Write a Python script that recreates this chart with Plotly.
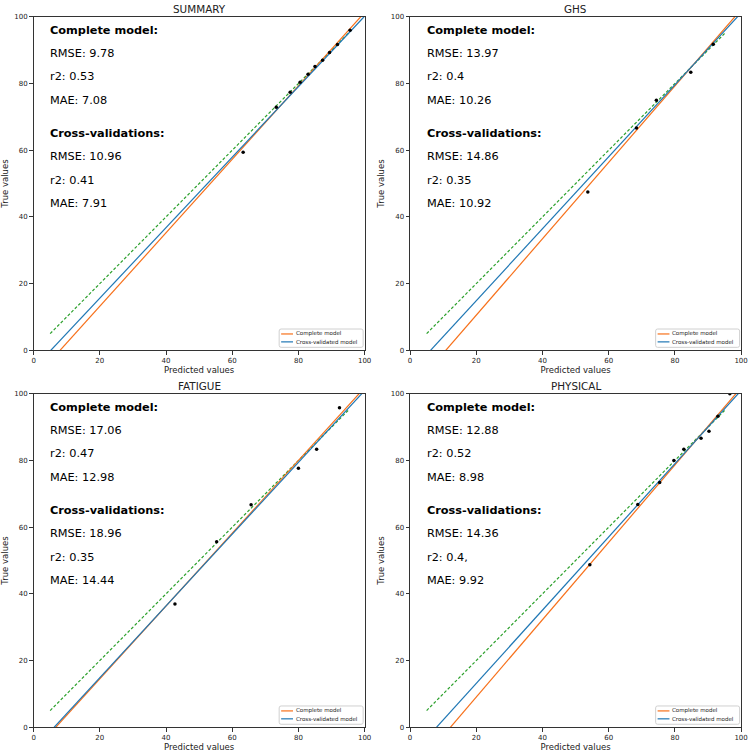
import numpy as np
import plotly.graph_objects as go

# ---------------- data ----------------
titles = ["SUMMARY", "GHS", "FATIGUE", "PHYSICAL"]

pred_values = [
    [63.3, 73.3, 77.5, 80.5, 82.9, 85.0, 87.3, 89.4, 91.8, 95.6],
    [53.7, 68.4, 74.4, 84.8, 91.6],
    [42.7, 55.3, 65.7, 80.0, 85.5, 92.4],
    [54.3, 68.8, 75.4, 79.7, 82.7, 87.9, 90.3, 93.0, 96.6],
]
true_values = [
    [59.4, 72.9, 77.4, 80.4, 82.8, 85.1, 87.0, 89.3, 91.7, 96.0],
    [47.5, 66.7, 75.0, 83.4, 91.8],
    [37.0, 55.6, 66.7, 77.7, 83.4, 95.8],
    [48.7, 66.8, 73.4, 80.0, 83.4, 86.7, 88.8, 93.3, 100.0],
]

# regression lines: true = slope * predicted + intercept
complete_slope = [1.1013, 1.1455, 1.0917, 1.1601]
complete_intercept = [-8.81, -12.37, -7.31, -14.15]
cv_slope = [1.0571, 1.0788, 1.0764, 1.0977]
cv_intercept = [-5.50, -6.69, -6.67, -8.78]

identity_range = [5, 95]

rmse_complete = ["9.78", "13.97", "17.06", "12.88"]
r2_complete = ["0.53", "0.4", "0.47", "0.52"]
mae_complete = ["7.08", "10.26", "12.98", "8.98"]
rmse_cv = ["10.96", "14.86", "18.96", "14.36"]
r2_cv = ["0.41", "0.35", "0.35", "0.4,"]
mae_cv = ["7.91", "10.92", "14.44", "9.92"]

legend_labels = ["Complete model", "Cross-validated model"]
tick_vals = [0, 20, 40, 60, 80, 100]

# ---------------- layout geometry ----------------
W, H = 756, 754
px_x = [(32, 367), (413, 748), (32, 367), (413, 748)]
px_y = [(13, 350), (13, 350), (394, 731), (394, 731)]

ORANGE = "#f7701a"
BLUE = "#1f77b4"
GREEN = "#2ca02c"
FONT = "DejaVu Sans"


def px2paper(px, py):
    return px / W, (H - py) / H


fig = go.Figure()
annotations = []
shapes = []
layout_extra = {}

for i in range(4):
    n = "" if i == 0 else str(i + 1)
    xa, ya = "x" + n, "y" + n
    x0, x1 = px_x[i]
    y0, y1 = px_y[i]
    xdom = [x0 / W, x1 / W]
    ydom = [(H - y1) / H, (H - y0) / H]

    axis_common = dict(
        range=[0, 100], tickvals=tick_vals, showgrid=False, zeroline=False,
        showline=True, mirror=True, linecolor="#333", linewidth=1,
        ticks="outside", ticklen=3.5, tickwidth=1, tickcolor="#333",
        tickfont=dict(family=FONT, size=7, color="#222"),
    )
    layout_extra["xaxis" + n] = dict(
        axis_common, domain=xdom, anchor=ya,
        title=dict(text="Predicted values", font=dict(family=FONT, size=8.5, color="#222"), standoff=2),
    )
    layout_extra["yaxis" + n] = dict(
        axis_common, domain=ydom, anchor=xa,
        title=dict(text="True values", font=dict(family=FONT, size=8.5, color="#222"), standoff=4),
    )

    xl = np.array([0.0, 100.0])
    fig.add_trace(go.Scatter(
        x=identity_range, y=identity_range, mode="lines", xaxis=xa, yaxis=ya,
        line=dict(color=GREEN, width=1.2, dash="3px,2px"), showlegend=False, hoverinfo="skip",
    ))
    fig.add_trace(go.Scatter(
        x=xl, y=complete_slope[i] * xl + complete_intercept[i], mode="lines",
        xaxis=xa, yaxis=ya, line=dict(color=ORANGE, width=1.2),
        name=legend_labels[0], showlegend=False,
    ))
    fig.add_trace(go.Scatter(
        x=xl, y=cv_slope[i] * xl + cv_intercept[i], mode="lines",
        xaxis=xa, yaxis=ya, line=dict(color=BLUE, width=1.2),
        name=legend_labels[1], showlegend=False,
    ))
    fig.add_trace(go.Scatter(
        x=pred_values[i], y=true_values[i], mode="markers", xaxis=xa, yaxis=ya,
        marker=dict(color="black", size=3.5), showlegend=False,
    ))

    # legend box (lower right, inside axes)
    lx1, ly1 = x1 - 1.5, y1 - 3
    lx0, ly0 = lx1 - 85, ly1 - 18.5
    r = 2
    path = (f"M {lx0 + r} {ly0} L {lx1 - r} {ly0} Q {lx1} {ly0} {lx1} {ly0 + r} "
            f"L {lx1} {ly1 - r} Q {lx1} {ly1} {lx1 - r} {ly1} L {lx0 + r} {ly1} "
            f"Q {lx0} {ly1} {lx0} {ly1 - r} L {lx0} {ly0 + r} Q {lx0} {ly0} {lx0 + r} {ly0} Z")
    # convert path pixel coords into paper coords
    toks = path.split()
    conv = []
    k = 0
    while k < len(toks):
        t = toks[k]
        if t.isalpha():
            conv.append(t)
            k += 1
        else:
            px_, py_ = float(toks[k]), float(toks[k + 1])
            qx, qy = px2paper(px_, py_)
            conv.append(f"{qx:.5f},{qy:.5f}")
            k += 2
    shapes.append(dict(type="path", path=" ".join(conv), xref="paper", yref="paper",
                       line=dict(color="#d0d0d0", width=1), fillcolor="rgba(255,255,255,0.8)",
                       layer="above"))
    for j, (col, lab) in enumerate(zip([ORANGE, BLUE], legend_labels)):
        yy = ly0 + 5 + j * 8
        a0 = px2paper(lx0 + 2, yy)
        a1 = px2paper(lx0 + 14, yy)
        shapes.append(dict(type="line", xref="paper", yref="paper",
                           x0=a0[0], y0=a0[1], x1=a1[0], y1=a1[1],
                           line=dict(color=col, width=1.2), layer="above"))
        tp = px2paper(lx0 + 16, yy)
        annotations.append(dict(
            text=lab, x=tp[0], y=tp[1], xref="paper", yref="paper",
            xanchor="left", yanchor="middle", showarrow=False, borderpad=0,
            font=dict(family=FONT, size=5.5, color="#222"),
        ))

    # subplot title
    annotations.append(dict(
        text=titles[i], x=(x0 + x1) / 2 / W, y=(H - y0) / H, xref="paper", yref="paper",
        xanchor="center", yanchor="bottom", showarrow=False, yshift=0,
        font=dict(family=FONT, size=10.4, color="#222"),
    ))

    lines = [
        ("<b>Complete model:</b>", 96),
        ("RMSE: " + rmse_complete[i], 89),
        ("r2: " + r2_complete[i], 82),
        ("MAE: " + mae_complete[i], 75),
        ("<b>Cross-validations:</b>", 65),
        ("RMSE: " + rmse_cv[i], 58),
        ("r2: " + r2_cv[i], 51),
        ("MAE: " + mae_cv[i], 44),
    ]
    for txt, yy in lines:
        annotations.append(dict(
            text=txt, x=5, y=yy, xref=xa, yref=ya, xanchor="left", yanchor="middle",
            showarrow=False, xshift=-2, font=dict(family=FONT, size=11.3, color="black"),
        ))

fig.update_layout(
    width=W, height=H, margin=dict(l=0, r=0, t=0, b=0),
    paper_bgcolor="white", plot_bgcolor="white", showlegend=False,
    annotations=annotations, shapes=shapes, **layout_extra,
)

fig.write_html("out.html")
